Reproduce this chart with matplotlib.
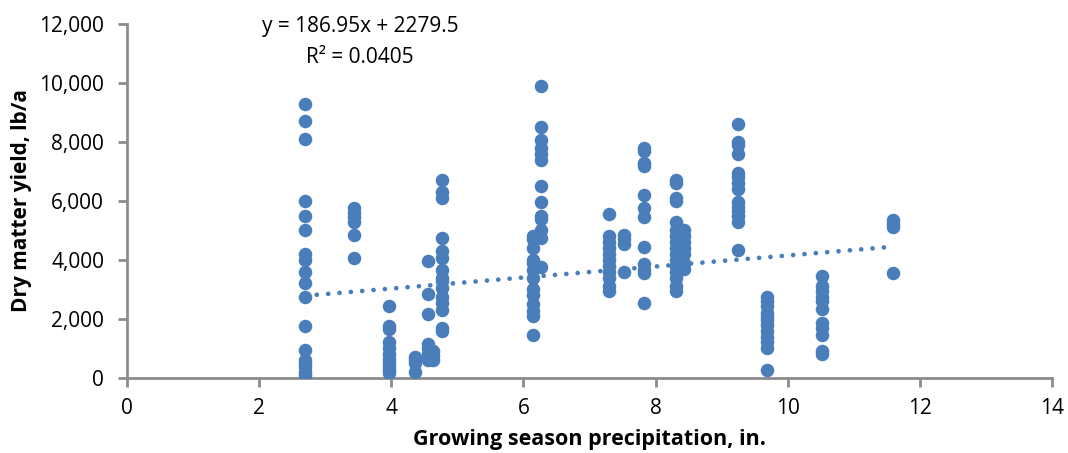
import matplotlib.pyplot as plt
from matplotlib.ticker import FuncFormatter

# growing season precipitation (in.) for each group of plots
precip = [2.7, 3.44, 3.97, 4.36, 4.56, 4.63, 4.77, 6.15, 6.27,
          7.30, 7.52, 7.82, 8.31, 8.43, 9.25, 9.69, 10.52, 11.59]

# dry matter yield (lb/a) observed at each precipitation level
yields = [
    [9300, 8700, 8100, 6000, 5500, 5000, 4200, 4000, 3600, 3200, 2750, 1750, 950, 600, 500, 350, 200, 80],
    [5750, 5600, 5450, 5300, 4850, 4050],
    [2450, 1750, 1650, 1200, 1000, 800, 650, 500, 350, 250, 150],
    [700, 600, 500, 200],
    [3950, 2850, 2150, 1150, 1000, 850, 700, 600],
    [900, 750, 600],
    [6700, 6300, 6100, 4750, 4300, 4050, 3650, 3400, 3300, 3050, 2750, 2550, 2300, 1700, 1600],
    [4800, 4700, 4400, 4000, 3900, 3650, 3400, 3000, 2800, 2500, 2250, 2100, 1450],
    [9900, 8500, 8050, 7800, 7600, 7400, 6500, 5950, 5500, 5400, 5000, 4750, 3750],
    [5550, 4800, 4600, 4400, 4200, 4000, 3800, 3600, 3400, 3100, 2950],
    [4850, 4700, 4550, 3600],
    [7800, 7700, 7300, 7200, 6200, 5750, 5450, 4450, 3850, 3650, 3550, 2550],
    [6700, 6600, 6100, 6000, 5300, 5000, 4800, 4600, 4400, 4200, 4000, 3800, 3600, 3400, 3100, 2950],
    [5000, 4800, 4600, 4400, 4200, 3900, 3700],
    [8600, 8000, 7900, 7600, 6950, 6800, 6600, 6400, 5950, 5800, 5650, 5500, 5300, 4350],
    [2750, 2600, 2450, 2200, 2050, 1950, 1800, 1600, 1400, 1200, 1000, 280],
    [3450, 3100, 2950, 2750, 2600, 2350, 1850, 1700, 1450, 900, 800],
    [5350, 5200, 5100, 3550],
]

# linear trend from the fit
slope = 186.95
intercept = 2279.5
r_squared = 0.0405

x = []
y = []
for p, vals in zip(precip, yields):
    for v in vals:
        x.append(p)
        y.append(v)

plt.rcParams['font.family'] = ['Open Sans', 'DejaVu Sans']
blue = '#4a7ebb'
gray = '#8c8c8c'

fig = plt.figure(figsize=(10.68, 4.53), dpi=100)
ax = fig.add_axes([0.119, 0.166, 0.866, 0.781])

ax.scatter(x, y, s=95, color=blue, zorder=3, linewidths=0)

x_fit = [min(x), max(x)]
y_fit = [slope * v + intercept for v in x_fit]
ax.plot(x_fit, y_fit, color=blue, lw=3.4, linestyle=(0, (0.01, 2.4)),
        dash_capstyle='round', zorder=2)

ax.text(3.53, 11930, 'y = 186.95x + 2279.5', ha='center', va='center', fontsize=15)
ax.text(3.53, 10880, 'R² = %.4f' % r_squared, ha='center', va='center', fontsize=15)

ax.set_xlim(0, 14)
ax.set_ylim(0, 12000)
ax.set_xticks(range(0, 15, 2))
ax.set_yticks(range(0, 12001, 2000))
ax.yaxis.set_major_formatter(FuncFormatter(lambda v, pos: '{:,.0f}'.format(v)))

for side in ['top', 'right']:
    ax.spines[side].set_visible(False)
for side in ['left', 'bottom']:
    ax.spines[side].set_color(gray)
    ax.spines[side].set_linewidth(2)
ax.tick_params(direction='out', length=6.5, width=2, color=gray, labelsize=15)
ax.tick_params(axis='y', pad=10)
ax.tick_params(axis='x', pad=8)

ax.set_xlabel('Growing season precipitation, in.', fontsize=15.5, fontweight='bold', labelpad=7)
ax.set_ylabel('Dry matter yield, lb/a', fontsize=15, fontweight='bold', labelpad=5)

fig.savefig('out.png', dpi=100)
